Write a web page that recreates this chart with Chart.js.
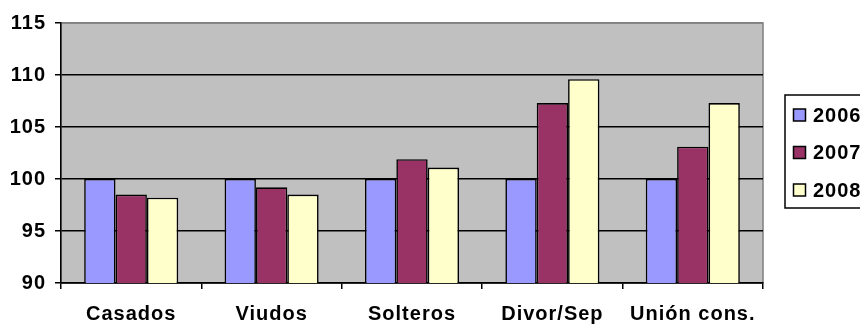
<!DOCTYPE html>
<html>
<head>
<meta charset="utf-8">
<script src="https://cdn.jsdelivr.net/npm/chart.js@4"></script>
<style>
  html, body { margin: 0; padding: 0; background: #fff; overflow: hidden; }
  #wrap { width: 860px; height: 325px; position: relative; }
</style>
</head>
<body>
<div id="wrap"><canvas id="c"></canvas></div>
<script>
// Categories and yearly index values (base 2006 = 100)
const categories = ['Casados', 'Viudos', 'Solteros', 'Divor/Sep', 'Unión cons.'];
const years = ['2006', '2007', '2008'];
const values2006 = [100, 100, 100, 100, 100];
const values2007 = [98.5, 99.2, 101.9, 107.3, 103.1];
const values2008 = [98.2, 98.5, 101.1, 109.6, 107.3];
const yTicks = [90, 95, 100, 105, 110, 115];

const colors = ['#9999FF', '#993366', '#FFFFCC'];
const FONT = { family: '"Liberation Sans", Arial, sans-serif', size: 20, weight: 'bold' };
const LETTER_SPACING = '1px';

// White page, grey plot background with a grey frame on top and right
const plotBackground = {
  id: 'plotBackground',
  beforeDraw(chart) {
    const { ctx, chartArea: a } = chart;
    ctx.save();
    ctx.fillStyle = '#fff';
    ctx.fillRect(0, 0, chart.width, chart.height);
    ctx.fillStyle = '#C0C0C0';
    ctx.fillRect(a.left, a.top, a.right - a.left, a.bottom - a.top);
    ctx.strokeStyle = '#808080';
    ctx.lineWidth = 1.5;
    ctx.strokeRect(a.left, a.top, a.right - a.left, a.bottom - a.top);
    ctx.restore();
    // slightly spaced lettering for every label drawn afterwards
    ctx.letterSpacing = LETTER_SPACING;
  }
};

// Boxed legend at the right
const boxedLegend = {
  id: 'boxedLegend',
  afterDraw(chart) {
    const { ctx } = chart;
    const x = 785, y = 95, w = 110, h = 113;
    ctx.save();
    ctx.fillStyle = '#fff';
    ctx.fillRect(x, y, w, h);
    ctx.strokeStyle = '#000';
    ctx.lineWidth = 1.5;
    ctx.strokeRect(x, y, w, h);
    ctx.font = `${FONT.weight} ${FONT.size}px ${FONT.family}`;
    ctx.letterSpacing = LETTER_SPACING;
    ctx.textBaseline = 'middle';
    ctx.textAlign = 'left';
    chart.data.datasets.forEach((ds, i) => {
      const cy = 115 + i * 37.5;
      ctx.fillStyle = ds.backgroundColor;
      ctx.fillRect(793.5, cy - 6, 12, 12);
      ctx.lineWidth = 1.5;
      ctx.strokeStyle = '#000';
      ctx.strokeRect(793.5, cy - 6, 12, 12);
      ctx.fillStyle = '#000';
      ctx.fillText(ds.label, 813, cy + 1);
    });
    ctx.restore();
  }
};

const seriesValues = [values2006, values2007, values2008];

new Chart(document.getElementById('c'), {
  type: 'bar',
  data: {
    labels: categories,
    datasets: years.map((yr, i) => ({
      label: yr,
      data: seriesValues[i],
      backgroundColor: colors[i],
      borderColor: '#000',
      borderWidth: 1.6,
      borderSkipped: false,
      categoryPercentage: 0.67,
      barPercentage: 1.0
    }))
  },
  options: {
    responsive: true,
    maintainAspectRatio: false,
    animation: false,
    devicePixelRatio: 1,
    layout: { padding: { top: 23, right: 97, bottom: 0, left: 0 } },
    plugins: {
      legend: { display: false },
      tooltip: { enabled: false }
    },
    scales: {
      x: {
        offset: true,
        grid: {
          offset: true,
          drawOnChartArea: false,
          drawTicks: true,
          tickLength: 6,
          color: '#000',
          lineWidth: 1.5
        },
        border: { display: true, color: '#000', width: 1.5 },
        ticks: {
          color: '#000',
          font: FONT,
          padding: 13,
          maxRotation: 0,
          autoSkip: false
        },
        afterFit(scale) { scale.height = 42; }
      },
      y: {
        min: 90,
        max: 115,
        afterBuildTicks(scale) { scale.ticks = yTicks.map(v => ({ value: v })); },
        grid: {
          color: ctx => (ctx.tick && ctx.tick.value === 115) ? '#808080' : '#000',
          tickColor: '#000',
          lineWidth: 1.5,
          tickLength: 6
        },
        border: { display: true, color: '#000', width: 1.5 },
        ticks: {
          color: '#000',
          font: FONT,
          padding: 9
        },
        afterFit(scale) { scale.width = 61; }
      }
    }
  },
  plugins: [plotBackground, boxedLegend]
});
</script>
</body>
</html>
